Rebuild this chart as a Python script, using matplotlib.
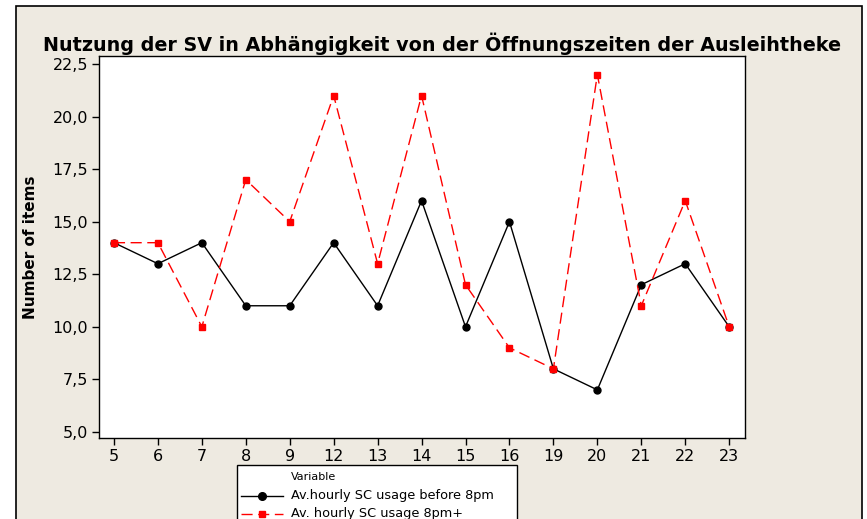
import matplotlib.pyplot as plt
from matplotlib.lines import Line2D
from matplotlib.patches import Rectangle
from matplotlib.ticker import FuncFormatter

hours = ['5', '6', '7', '8', '9', '12', '13', '14', '15', '16', '19', '20', '21', '22', '23']
before_8pm = [14, 13, 14, 11, 11, 14, 11, 16, 10, 15, 8, 7, 12, 13, 10]
after_8pm = [14, 14, 10, 17, 15, 21, 13, 21, 12, 9, 8, 22, 11, 16, 10]
y_ticks = [5.0, 7.5, 10.0, 12.5, 15.0, 17.5, 20.0, 22.5]

bg = '#eeeae1'
W, H = 867, 519

fig = plt.figure(figsize=(W / 100, H / 100), dpi=100, facecolor='white')
# outer panel with border
fig.add_artist(Rectangle((16 / W, -0.1), (862 - 16) / W, 1 - 6 / H + 0.1,
                         transform=fig.transFigure, facecolor=bg, edgecolor='black', lw=1.2,
                         zorder=-10))

ax = fig.add_axes([99 / W, 1 - 438 / H, (745 - 99) / W, (438 - 56) / H])
x = range(len(hours))
ax.plot(x, before_8pm, color='black', lw=1.0, marker='o', ms=5)
ax.plot(x, after_8pm, color='red', lw=1.0, ls=(0, (8, 4)), marker='s', ms=4.5)

ax.set_xlim(-0.34, len(hours) - 1 + 0.36)
ax.set_ylim(4.71, 22.88)
ax.set_xticks(list(x))
ax.set_xticklabels(hours)
ax.set_yticks(y_ticks)
ax.yaxis.set_major_formatter(FuncFormatter(lambda v, p: f'{v:.1f}'.replace('.', ',')))
ax.tick_params(direction='out', length=5, width=1, labelsize=11.5, colors='black', pad=3)
for s in ax.spines.values():
    s.set_linewidth(1)
ax.set_ylabel('Number of items', fontsize=11, fontweight='bold', labelpad=10)

fig.text(442 / W, 1 - 44 / H, 'Nutzung der SV in Abhängigkeit von der Öffnungszeiten der Ausleihtheke',
         ha='center', va='center', fontsize=13.8, fontweight='bold')

# legend box (cut off at the bottom, as in the original)
fig.add_artist(Rectangle((237 / W, -0.1), (517 - 237) / W, 0.1 + 1 - 465 / H,
                         transform=fig.transFigure, facecolor='white', edgecolor='black', lw=1))
fig.text(291 / W, 1 - 477 / H, 'Variable', fontsize=8, va='center')
labels = ['Av.hourly SC usage before 8pm', 'Av. hourly SC usage 8pm+']
styles = [dict(color='black', ls='-', marker='o', ms=5.5),
          dict(color='red', ls=(0, (8, 4)), marker='s', ms=5)]
for i, (lab, st) in enumerate(zip(labels, styles)):
    yy = 1 - (496 + 18 * i) / H
    fig.add_artist(Line2D([241 / W, 283 / W], [yy, yy], transform=fig.transFigure, lw=1.0,
                          color=st['color'], ls=st['ls']))
    fig.add_artist(Line2D([262 / W], [yy], transform=fig.transFigure, marker=st['marker'],
                          ms=st['ms'], color=st['color'], ls='none'))
    fig.text(291 / W, yy, lab, fontsize=9.3, va='center')

fig.savefig('out.png', dpi=100)
